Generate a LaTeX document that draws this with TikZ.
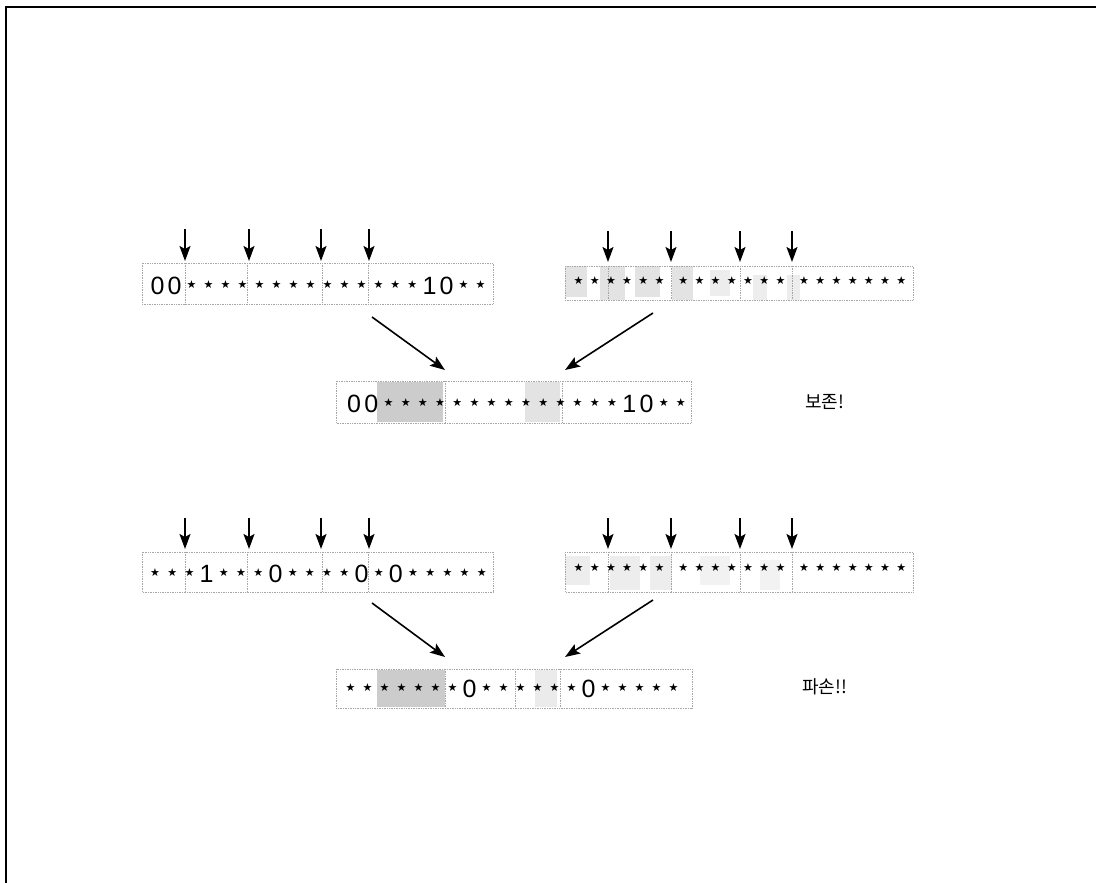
\documentclass[tikz,border=0pt]{standalone}
\usepackage{fontspec}
\setmainfont{Liberation Sans}
\newfontfamily\krfont{Noto Sans CJK KR}
\newfontfamily\symfont{DejaVu Sans}
\usetikzlibrary{arrows.meta}
\makeatletter
\newlength\schpitch
\newcommand\schstar{\raisebox{\dimexpr 9pt-0.5\height\relax}{\symfont\fontsize{11}{11}\selectfont ★}}
\def\sch@star{*}
\def\sch@gap{|}
\newcommand\schema[2]{\setlength\schpitch{#1}\@tfor\sch@c:=#2\do{%
  \ifx\sch@c\sch@gap\hspace{7.5pt}\else
  \makebox[\schpitch][c]{\ifx\sch@c\sch@star\schstar\else\sch@c\fi}\fi}}
\makeatother
\tikzset{
  str/.style={inner sep=0pt, anchor=base, font=\fontsize{25}{25}\selectfont},
  box/.style={draw=gray!70, densely dotted, line width=0.7pt},
  shadeA/.style={fill=gray!40},
  shadeB/.style={fill=gray!22},
  darr/.style={line width=1.6pt, -{Stealth[length=15pt,width=11pt,inset=3pt]}},
  frame/.style={line width=1.5pt},
  krlabel/.style={inner sep=0pt, anchor=west, font=\krfont\fontsize{18}{18}\selectfont}
}
\begin{document}
\begin{tikzpicture}[x=1pt,y=-1pt]
\useasboundingbox (0,0) rectangle (1096,883);
% frame
\coordinate (fTL) at (6,7);
\coordinate (fTR) at (1096,7);
\coordinate (fBL) at (6,883);
\draw[frame] (fTR) -- (fTL) -- (fBL);

% ---------- shading ----------
% row 1 right
\fill[shadeB] (565,266) rectangle (587,297);
\fill[shadeB] (600,266) rectangle (625,300);
\fill[shadeB] (635,266) rectangle (660,297);
\fill[shadeB] (672,266) rectangle (693,300);
\fill[gray!14] (710,270) rectangle (730,296);
\fill[gray!14] (753,275) rectangle (767,300);
\fill[gray!14] (787,275) rectangle (800,300);
% row 2 right
\fill[gray!14] (565,556) rectangle (590,585);
\fill[gray!14] (610,556) rectangle (640,590);
\fill[gray!14] (650,556) rectangle (672,590);
\fill[gray!10] (700,556) rectangle (730,585);
\fill[gray!10] (760,560) rectangle (780,590);
% child 1
\fill[shadeA] (377,382) rectangle (443,422);
\fill[shadeB] (525,382) rectangle (560,422);
% child 2
\fill[shadeA] (377,670) rectangle (445,707);
\fill[gray!16] (535,670) rectangle (557,707);

% ---------- boxes ----------
\draw[box] (142,263) rectangle (493,304);
\foreach \x in {185,247,322,368} \draw[box] (\x,263) -- (\x,304);
\draw[box] (565,266) rectangle (913,300);
\foreach \x in {608,671,740,792} \draw[box] (\x,266) -- (\x,300);
\draw[box] (336,381) rectangle (691,423);
\foreach \x in {445,562} \draw[box] (\x,381) -- (\x,423);

\draw[box] (142,552) rectangle (493,592);
\foreach \x in {185,247,322,368} \draw[box] (\x,552) -- (\x,592);
\draw[box] (565,552) rectangle (913,592);
\foreach \x in {608,671,740,792} \draw[box] (\x,552) -- (\x,592);
\draw[box] (336,669) rectangle (692,708);
\foreach \x in {445,515,560} \draw[box] (\x,669) -- (\x,708);

% ---------- strings ----------
\node[str] (p1a) at (319,294) {\schema{17pt}{00**************10**}};
\node[str] (p1b) at (740,290) {\schema{16.2pt}{******|*******|*******}};
\node[str] (c1)  at (517.5,412) {\schema{17.2pt}{00**************10**}};
\node[krlabel] (lab1) at (805,402) {보존!};

\node[str] (p2a) at (318.5,582) {\schema{17.2pt}{***1***0****0*0*****}};
\node[str] (p2b) at (740,577) {\schema{16.2pt}{******|*******|*******}};
\node[str] (c2)  at (512,697) {\schema{17pt}{*******0******0*****}};
\node[krlabel] (lab2) at (802,687) {파손!!};

% ---------- crossover arrows ----------
\foreach \x [count=\i] in {185,249,321,369} {
  \coordinate (ua\i) at (\x,229);
  \coordinate (ub\i) at (\x,261);
  \draw[darr] (ua\i) -- (ub\i);
  \coordinate (va\i) at (\x,518);
  \coordinate (vb\i) at (\x,549);
  \draw[darr] (va\i) -- (vb\i);
}
\foreach \x [count=\i] in {608,671,740,792} {
  \coordinate (ra\i) at (\x,231);
  \coordinate (rb\i) at (\x,262);
  \draw[darr] (ra\i) -- (rb\i);
  \coordinate (sa\i) at (\x,518);
  \coordinate (sb\i) at (\x,549);
  \draw[darr] (sa\i) -- (sb\i);
}

% ---------- merge arrows ----------
\coordinate (m1ls) at (372,317);
\coordinate (m1le) at (445,370);
\coordinate (m1rs) at (653,313);
\coordinate (m1re) at (565,370);
\draw[darr] (m1ls) -- (m1le);
\draw[darr] (m1rs) -- (m1re);

\coordinate (m2ls) at (372,603);
\coordinate (m2le) at (445,657);
\coordinate (m2rs) at (653,600);
\coordinate (m2re) at (565,657);
\draw[darr] (m2ls) -- (m2le);
\draw[darr] (m2rs) -- (m2re);
\end{tikzpicture}
\end{document}
